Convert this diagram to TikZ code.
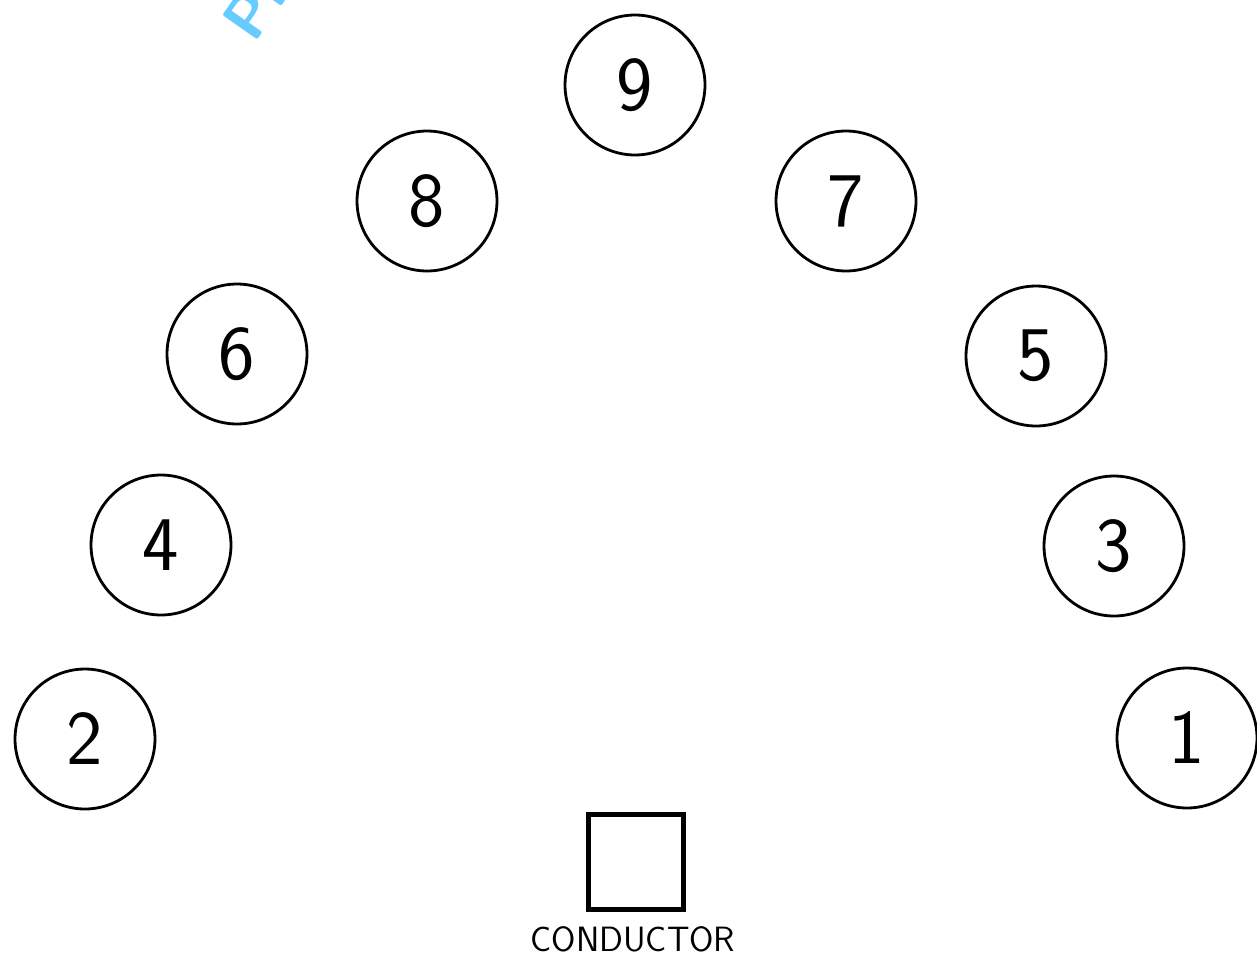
\documentclass[tikz,border=0pt]{standalone}
\usepackage{tikz}
\usepackage{xcolor}
\definecolor{markBlue}{HTML}{66CCFF}
\tikzset{
  seat/.style={circle, draw, line width=1.6pt, minimum size=2.8cm, inner sep=0pt,
    font=\sffamily\fontsize{44}{44}\selectfont},
  podium/.style={rectangle, draw, line width=2.6pt, minimum size=1.9cm, inner sep=0pt}
}

\begin{document}
\begin{tikzpicture}[x=0.02cm, y=-0.02cm]
  \clip (0,0) rectangle (1257,957);
  \filldraw[fill=white, draw=none] (0,0) rectangle (1257,957);
  \node[text=markBlue, rotate=55, inner sep=0pt, font=\sffamily\bfseries\fontsize{35}{35}\selectfont, anchor=base west] (mark) at (254,45) {Pr};
  \node[seat] (s9) at (635,85) {9};
  \node[seat] (s8) at (427,201) {8};
  \node[seat] (s7) at (846,201) {7};
  \node[seat] (s6) at (237,354) {6};
  \node[seat] (s5) at (1036,356) {5};
  \node[seat] (s4) at (161,545) {4};
  \node[seat] (s3) at (1114,546) {3};
  \node[seat] (s2) at (85,739) {2};
  \node[seat] (s1) at (1187,738) {1};
  \node[podium] (cond) at (636,862) {};
  \node[font=\sffamily\fontsize{20}{20}\selectfont] (condlabel) at (633,939) {CONDUCTOR};
\end{tikzpicture}
\end{document}
